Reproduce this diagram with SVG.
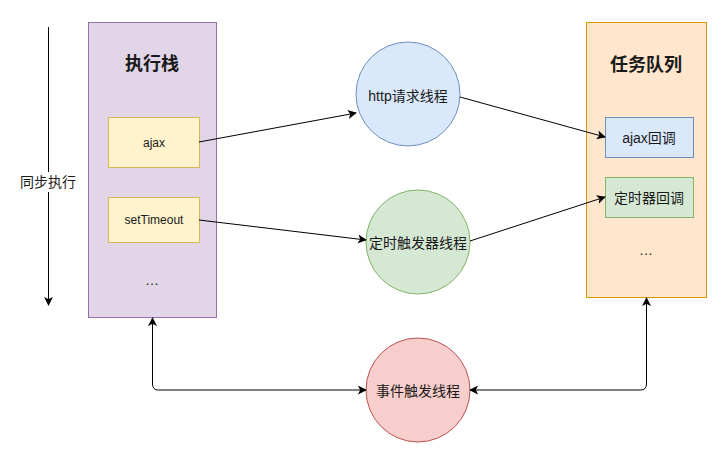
<svg xmlns="http://www.w3.org/2000/svg" width="726" height="463" viewBox="0 0 726 463">
<defs>
<marker id="ah" viewBox="0 0 10 10" refX="9" refY="5" markerWidth="9" markerHeight="9" orient="auto-start-reverse" markerUnits="userSpaceOnUse">
<path d="M0,0 L10,5 L0,10 L2.5,5 Z" fill="#000"/>
</marker>
</defs>
<style>
text{font-family:"Liberation Sans","Noto Sans CJK SC",sans-serif;font-size:14px;fill:#1a1a1a;text-anchor:middle;dominant-baseline:central}
.s{font-size:12px}
.t{font-size:18px;font-weight:bold}
.c{fill:none;stroke:#000;stroke-width:1;marker-end:url(#ah)}
.b{marker-start:url(#ah)}
</style>
<rect width="726" height="463" fill="#fff"/>
<g id="sync">
<line x1="48.5" y1="27" x2="48.5" y2="305" class="c"/>
<rect x="19" y="172" width="58" height="20" fill="#fff"/>
<text x="48" y="182">同步执行</text>
</g>
<g id="stack">
<rect x="88.5" y="22.5" width="128" height="295" fill="#e1d5e7" stroke="#9673a6"/>
<text class="t" x="152" y="64">执行栈</text>
<text x="152" y="280">…</text>
</g>
<g id="ajax">
<rect x="108.5" y="117.5" width="91" height="50" fill="#fff2cc" stroke="#d6b656"/>
<text class="s" x="154" y="143">ajax</text>
</g>
<g id="setTimeout">
<rect x="108.5" y="197.5" width="91" height="45" fill="#fff2cc" stroke="#d6b656"/>
<text class="s" x="154" y="220">setTimeout</text>
</g>
<g id="queue">
<rect x="586.5" y="22.5" width="120" height="275" fill="#ffe6cc" stroke="#d79b00"/>
<text class="t" x="646" y="65">任务队列</text>
<text x="646" y="250">…</text>
</g>
<g id="ajaxcb">
<rect x="605.5" y="117.5" width="88" height="40" fill="#dae8fc" stroke="#6c8ebf"/>
<text x="649" y="138">ajax回调</text>
</g>
<g id="timercb">
<rect x="605.5" y="177.5" width="88" height="40" fill="#d5e8d4" stroke="#82b366"/>
<text x="649" y="198">定时器回调</text>
</g>
<g id="http">
<circle cx="408" cy="94" r="52" fill="#dae8fc" stroke="#6c8ebf"/>
<text x="408" y="96">http请求线程</text>
</g>
<g id="timer">
<circle cx="418" cy="242" r="52" fill="#d5e8d4" stroke="#82b366"/>
<text x="418" y="243">定时触发器线程</text>
</g>
<g id="event">
<circle cx="418" cy="390" r="52" fill="#f8cecc" stroke="#b85450"/>
<text x="418" y="391">事件触发线程</text>
</g>
<g id="connectors">
<path d="M199,142 L356,113" class="c"/>
<path d="M460,97 L605,137" class="c"/>
<path d="M199,220 L366,240" class="c"/>
<path d="M470,241 L605,197" class="c"/>
<path d="M152.5,318 L152.5,384 Q152.5,390 158.5,390 L366,390" class="c b"/>
<path d="M646.5,298 L646.5,384 Q646.5,390 640.5,390 L470,390" class="c b"/>
</g>
</svg>
